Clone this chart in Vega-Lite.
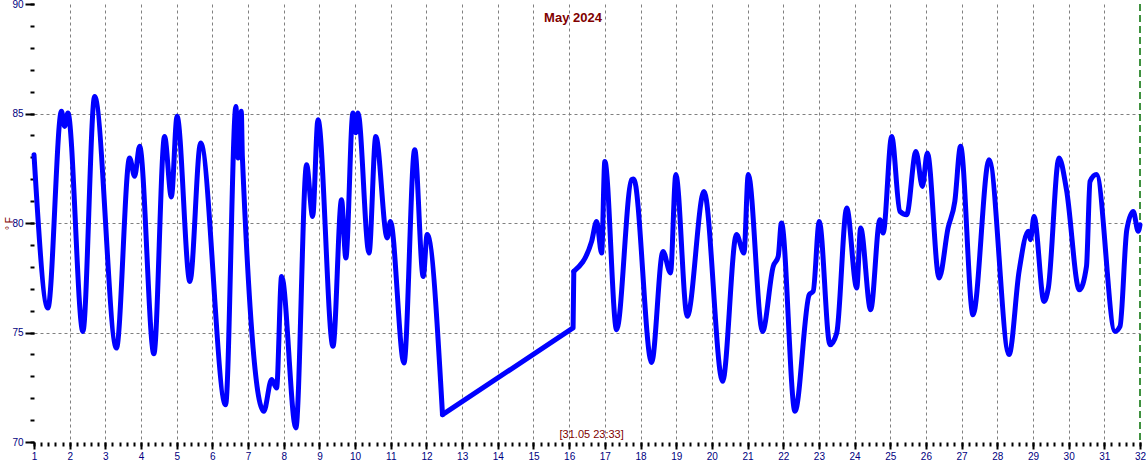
{
  "$schema": "https://vega.github.io/schema/vega-lite/v6.json",
  "width": 1106,
  "height": 438,
  "autosize": "none",
  "padding": {"left": 34, "top": 4, "right": 6, "bottom": 25},
  "background": "white",
  "config": {"view": {"stroke": null}, "font": "Liberation Sans"},
  "title": {"text": "May 2024", "color": "#800000", "fontSize": 13, "fontWeight": "bold", "font": "Liberation Sans", "anchor": "middle", "offset": -26, "dx": -14},
  "data": {"values": [
    {"day": 1.00, "temp": 83.12}, {"day": 1.39, "temp": 76.12}, {"day": 1.77, "temp": 85.10}, {"day": 1.86, "temp": 84.41}, {"day": 1.95, "temp": 85.02},
    {"day": 2.37, "temp": 75.05}, {"day": 2.70, "temp": 85.78}, {"day": 3.31, "temp": 74.29}, {"day": 3.68, "temp": 82.97}, {"day": 3.82, "temp": 82.13},
    {"day": 3.96, "temp": 83.50}, {"day": 4.36, "temp": 74.03}, {"day": 4.66, "temp": 83.95}, {"day": 4.85, "temp": 81.19}, {"day": 5.01, "temp": 84.87},
    {"day": 5.37, "temp": 77.33}, {"day": 5.67, "temp": 83.65}, {"day": 6.37, "temp": 71.70}, {"day": 6.66, "temp": 85.32}, {"day": 6.72, "temp": 82.97},
    {"day": 6.81, "temp": 85.10}, {"day": 6.84, "temp": 83.04}, {"day": 7.44, "temp": 71.40}, {"day": 7.66, "temp": 72.85}, {"day": 7.80, "temp": 72.47},
    {"day": 7.94, "temp": 77.56}, {"day": 8.34, "temp": 70.64}, {"day": 8.64, "temp": 82.66}, {"day": 8.81, "temp": 80.30}, {"day": 8.96, "temp": 84.72},
    {"day": 9.38, "temp": 74.37}, {"day": 9.62, "temp": 81.06}, {"day": 9.74, "temp": 78.40}, {"day": 9.94, "temp": 85.02}, {"day": 10.02, "temp": 84.12},
    {"day": 10.08, "temp": 85.02}, {"day": 10.39, "temp": 78.63}, {"day": 10.58, "temp": 83.95}, {"day": 10.90, "temp": 79.32}, {"day": 10.99, "temp": 80.07},
    {"day": 11.37, "temp": 73.61}, {"day": 11.67, "temp": 83.35}, {"day": 11.91, "temp": 77.56}, {"day": 12.02, "temp": 79.47}, {"day": 12.45, "temp": 71.25},
    {"day": 16.11, "temp": 75.21}, {"day": 16.13, "temp": 77.79}, {"day": 16.63, "temp": 79.16}, {"day": 16.77, "temp": 80.07}, {"day": 16.91, "temp": 78.63},
    {"day": 17.00, "temp": 82.81}, {"day": 17.33, "temp": 75.13}, {"day": 17.75, "temp": 81.98}, {"day": 17.81, "temp": 82.01}, {"day": 18.31, "temp": 73.63},
    {"day": 18.63, "temp": 78.70}, {"day": 18.84, "temp": 77.72}, {"day": 18.99, "temp": 82.21}, {"day": 19.31, "temp": 75.74}, {"day": 19.78, "temp": 81.44},
    {"day": 20.30, "temp": 72.77}, {"day": 20.69, "temp": 79.47}, {"day": 20.90, "temp": 78.63}, {"day": 21.02, "temp": 82.21}, {"day": 21.42, "temp": 75.05},
    {"day": 21.72, "temp": 78.02}, {"day": 21.86, "temp": 78.48}, {"day": 21.95, "temp": 80.00}, {"day": 22.33, "temp": 71.40}, {"day": 22.73, "temp": 76.73},
    {"day": 22.84, "temp": 76.88}, {"day": 23.01, "temp": 80.07}, {"day": 23.31, "temp": 74.44}, {"day": 23.50, "temp": 74.98}, {"day": 23.78, "temp": 80.68},
    {"day": 24.06, "temp": 77.03}, {"day": 24.17, "temp": 79.77}, {"day": 24.45, "temp": 76.04}, {"day": 24.71, "temp": 80.15}, {"day": 24.80, "temp": 79.54},
    {"day": 25.04, "temp": 83.95}, {"day": 25.27, "temp": 80.53}, {"day": 25.46, "temp": 80.38}, {"day": 25.72, "temp": 83.27}, {"day": 25.90, "temp": 81.67},
    {"day": 26.04, "temp": 83.20}, {"day": 26.37, "temp": 77.49}, {"day": 26.62, "temp": 79.77}, {"day": 26.81, "temp": 80.99}, {"day": 26.97, "temp": 83.50},
    {"day": 27.32, "temp": 75.81}, {"day": 27.77, "temp": 82.89}, {"day": 28.33, "temp": 73.99}, {"day": 28.61, "temp": 77.79}, {"day": 28.87, "temp": 79.62},
    {"day": 28.93, "temp": 79.24}, {"day": 29.03, "temp": 80.30}, {"day": 29.31, "temp": 76.42}, {"day": 29.43, "temp": 77.03}, {"day": 29.73, "temp": 82.97},
    {"day": 29.94, "temp": 81.52}, {"day": 30.30, "temp": 76.95}, {"day": 30.50, "temp": 78.02}, {"day": 30.60, "temp": 81.90}, {"day": 30.78, "temp": 82.21},
    {"day": 31.30, "temp": 75.05}, {"day": 31.44, "temp": 75.28}, {"day": 31.63, "temp": 79.69}, {"day": 31.81, "temp": 80.53}, {"day": 31.95, "temp": 79.62},
    {"day": 32.00, "temp": 79.92}
  ]},
  "layer": [
    {
      "mark": {"type": "point", "opacity": 0},
      "encoding": {
        "x": {"field": "day", "type": "quantitative", "scale": {"domain": [1, 32], "nice": false, "zero": false},
              "axis": {"orient": "bottom", "values": [2,3,4,5,6,7,8,9,10,11,12,13,14,15,16,17,18,19,20,21,22,23,24,25,26,27,28,29,30,31], "grid": true, "gridColor": "#808080", "gridDash": [3, 3], "gridWidth": 1, "ticks": false, "labels": false, "domain": false, "title": null}},
        "y": {"field": "temp", "type": "quantitative", "scale": {"domain": [70, 90], "nice": false, "zero": false},
              "axis": {"orient": "left", "values": [75, 80, 85], "grid": true, "gridColor": "#808080", "gridDash": [3, 3], "gridWidth": 1, "ticks": false, "labels": false, "domain": false, "title": null}}
      }
    },
    {
      "mark": {"type": "point", "opacity": 0},
      "encoding": {
        "x": {"field": "day", "type": "quantitative", "scale": {"domain": [1, 32], "nice": false, "zero": false},
              "axis": {"orient": "bottom", "values": [1,1.2,1.4,1.6,1.8,2,2.2,2.4,2.6,2.8,3,3.2,3.4,3.6,3.8,4,4.2,4.4,4.6,4.8,5,5.2,5.4,5.6,5.8,6,6.2,6.4,6.6,6.8,7,7.2,7.4,7.6,7.8,8,8.2,8.4,8.6,8.8,9,9.2,9.4,9.6,9.8,10,10.2,10.4,10.6,10.8,11,11.2,11.4,11.6,11.8,12,12.2,12.4,12.6,12.8,13,13.2,13.4,13.6,13.8,14,14.2,14.4,14.6,14.8,15,15.2,15.4,15.6,15.8,16,16.2,16.4,16.6,16.8,17,17.2,17.4,17.6,17.8,18,18.2,18.4,18.6,18.8,19,19.2,19.4,19.6,19.8,20,20.2,20.4,20.6,20.8,21,21.2,21.4,21.6,21.8,22,22.2,22.4,22.6,22.8,23,23.2,23.4,23.6,23.8,24,24.2,24.4,24.6,24.8,25,25.2,25.4,25.6,25.8,26,26.2,26.4,26.6,26.8,27,27.2,27.4,27.6,27.8,28,28.2,28.4,28.6,28.8,29,29.2,29.4,29.6,29.8,30,30.2,30.4,30.6,30.8,31,31.2,31.4,31.6,31.8,32], "grid": false, "ticks": true, "tickSize": 4, "tickWidth": 2, "tickColor": "#000000", "labels": false, "domain": false, "title": null}},
        "y": {"field": "temp", "type": "quantitative", "scale": {"domain": [70, 90], "nice": false, "zero": false},
              "axis": {"orient": "left", "values": [70,71,72,73,74,75,76,77,78,79,80,81,82,83,84,85,86,87,88,89,90], "grid": false, "ticks": true, "tickSize": 4, "tickWidth": 2, "tickColor": "#000000", "labels": false, "domain": false, "title": null}}
      }
    },
    {
      "data": {"values": [{}]},
      "mark": {"type": "rule", "color": "#006e00", "strokeDash": [7, 4], "strokeWidth": 1.5},
      "encoding": {
        "x": {"datum": 32, "type": "quantitative", "scale": {"domain": [1, 32], "nice": false, "zero": false}, "axis": null}
      }
    },
    {
      "transform": [{"filter": "datum.day <= 12.45"}],
      "mark": {"type": "line", "color": "#0000ff", "strokeWidth": 5, "strokeJoin": "round", "strokeCap": "round", "interpolate": "monotone"},
      "encoding": {
        "x": {"field": "day", "type": "quantitative", "scale": {"domain": [1, 32], "nice": false, "zero": false}, "axis": null},
        "y": {"field": "temp", "type": "quantitative", "scale": {"domain": [70, 90], "nice": false, "zero": false}, "axis": null}
      }
    },
    {
      "transform": [{"filter": "datum.day >= 12.45 && datum.day <= 16.13"}],
      "mark": {"type": "line", "color": "#0000ff", "strokeWidth": 5, "strokeJoin": "round", "strokeCap": "round", "interpolate": "linear"},
      "encoding": {
        "x": {"field": "day", "type": "quantitative", "scale": {"domain": [1, 32], "nice": false, "zero": false}, "axis": null},
        "y": {"field": "temp", "type": "quantitative", "scale": {"domain": [70, 90], "nice": false, "zero": false}, "axis": null}
      }
    },
    {
      "transform": [{"filter": "datum.day >= 16.13"}],
      "mark": {"type": "line", "color": "#0000ff", "strokeWidth": 5, "strokeJoin": "round", "strokeCap": "round", "interpolate": "monotone"},
      "encoding": {
        "x": {"field": "day", "type": "quantitative", "scale": {"domain": [1, 32], "nice": false, "zero": false},
              "axis": {"orient": "bottom", "values": [1,2,3,4,5,6,7,8,9,10,11,12,13,14,15,16,17,18,19,20,21,22,23,24,25,26,27,28,29,30,31,32], "format": "d", "grid": false, "ticks": true, "tickSize": 7, "tickWidth": 2, "tickColor": "#000000", "labels": true, "labelFontSize": 10, "labelColor": "#000080", "labelPadding": 2, "labelFlush": false, "labelOverlap": false, "labelAngle": 0, "labelFont": "Liberation Sans", "domain": false, "title": null}},
        "y": {"field": "temp", "type": "quantitative", "scale": {"domain": [70, 90], "nice": false, "zero": false},
              "axis": {"orient": "left", "values": [70, 75, 80, 85, 90], "format": "d", "grid": false, "ticks": true, "tickSize": 9, "tickWidth": 2, "tickColor": "#000000", "labels": true, "labelFontSize": 10, "labelColor": "#000080", "labelPadding": 2, "labelFlush": false, "labelOverlap": false, "labelFont": "Liberation Sans", "domain": false,
                       "title": "° F", "titleColor": "#800000", "titleFontSize": 10, "titleFontWeight": "normal", "titleFont": "Liberation Sans", "titlePadding": -3}}
      }
    },
    {
      "data": {"values": [{}]},
      "mark": {"type": "text", "text": "[31.05 23:33]", "color": "#800000", "fontSize": 11, "font": "Liberation Sans", "baseline": "middle", "align": "center"},
      "encoding": {
        "x": {"datum": 16.63, "type": "quantitative", "scale": {"domain": [1, 32], "nice": false, "zero": false}, "axis": null},
        "y": {"datum": 70.33, "type": "quantitative", "scale": {"domain": [70, 90], "nice": false, "zero": false}, "axis": null}
      }
    }
  ],
  "resolve": {"axis": {"x": "independent", "y": "independent"}}
}
